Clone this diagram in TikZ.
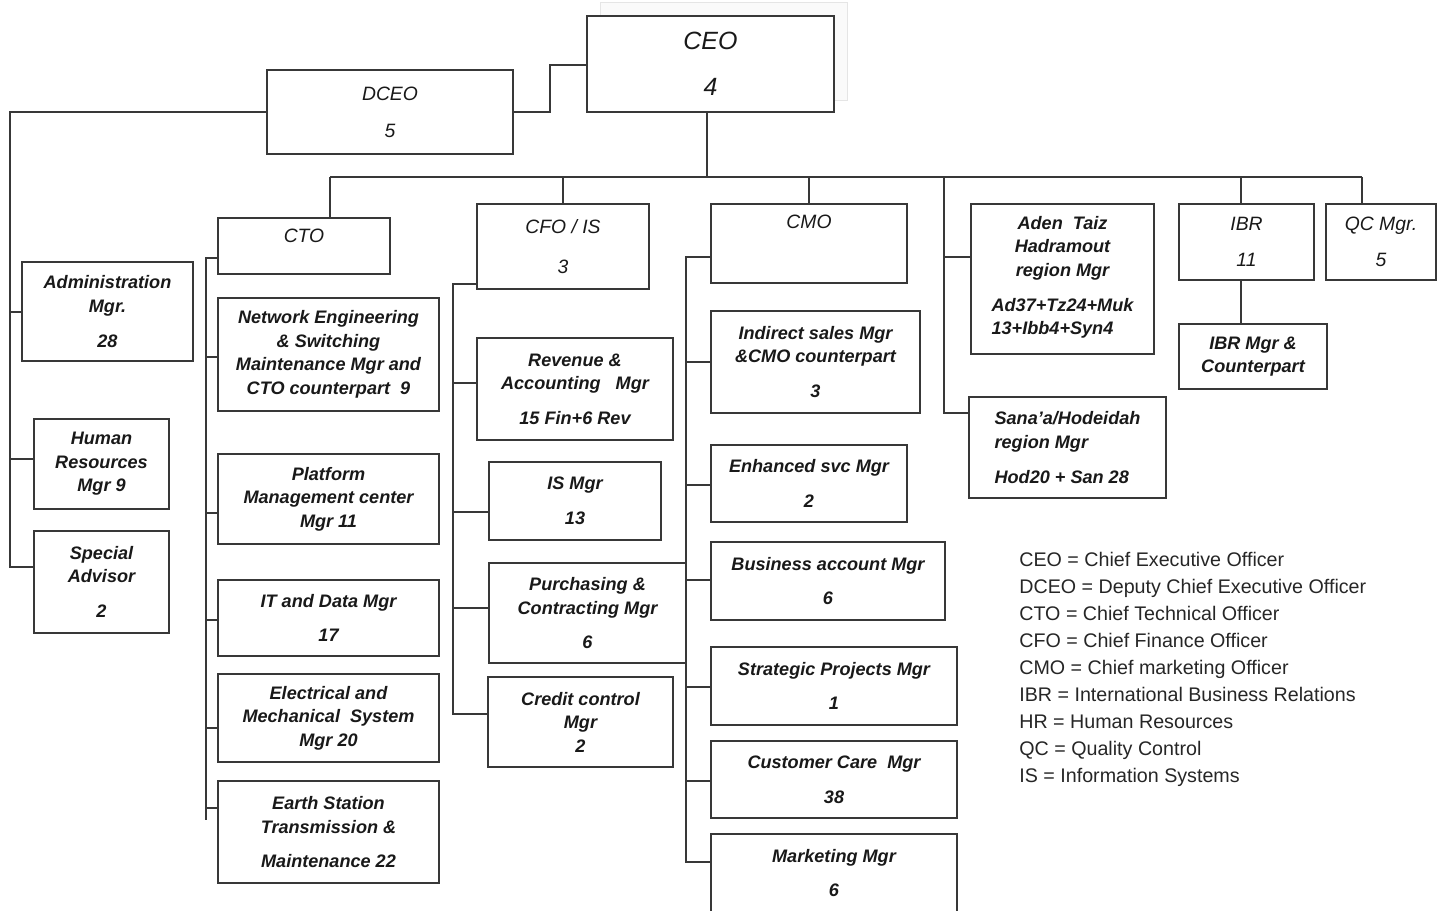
\documentclass[tikz,border=0pt]{standalone}
\usepackage{fontspec}
\setmainfont{Liberation Sans}
\usepackage{tikz}

\newcommand{\orgfont}{\fontsize{10.3}{13.4}\selectfont\bfseries\itshape}
\newcommand{\headfont}{\fontsize{11}{13.4}\selectfont\itshape}

\begin{document}
\begin{tikzpicture}[x=0.02cm, y=-0.02cm,
		box/.style={draw=black!78, line width=1pt, fill=white, inner sep=0pt, align=center, font=\orgfont, text=black!90},
		head/.style={box, font=\headfont},
		boxsize/.style 2 args={minimum width=#1*0.02cm, minimum height=#2*0.02cm},
		link/.style={draw=black!78, line width=1pt}]
		\useasboundingbox (0,0) rectangle (1443,911);
		\draw[black!10, fill=black!2] (600,2) rectangle (847,100);
		\node[head, boxsize={247}{96}, font=\fontsize{14.2}{17}\selectfont\itshape] (ceo) at (710.5,64) {CEO\\[9pt]4};
		\node[head, boxsize={246}{84}] (dceo) at (390,112) {DCEO\\[7.6pt]5};
		\node[head, boxsize={172}{56}] (cto) at (304,246) {CTO\\[-2pt]\mbox{}};
		\node[head, boxsize={172}{85}] (cfo) at (563,246.5) {CFO / IS\\[9.3pt]3};
		\node[head, boxsize={196}{79}] (cmo) at (809,243.5) {CMO\\[11pt]\mbox{}};
		\node[box, boxsize={183}{150}] (aden) at (1062.5,279) {Aden\ \ Taiz\\Hadramout\\region Mgr\\[6.4pt]\begin{tabular}[t]{@{}l@{}}Ad37+Tz24+Muk\\13+Ibb4+Syn4\end{tabular}};
		\node[box, boxsize={197}{101}, align=left] (sanaa) at (1067.5,447.5) {Sana'a/Hodeidah\\region Mgr\\[6.4pt]Hod20 + San 28};
		\node[head, boxsize={135}{76}] (ibr) at (1246.5,242) {IBR\\[7pt]11};
		\node[box, boxsize={148}{65}] (ibrmgr) at (1253,356.5) {IBR Mgr \&\\Counterpart};
		\node[head, boxsize={110}{76}] (qc) at (1381,242) {QC Mgr.\\[7pt]5};
		\node[box, boxsize={171}{99}] (admin) at (107.5,311.5) {Administration\\Mgr.\\[6.4pt]28};
		\node[box, boxsize={135}{90}] (hr) at (101.5,464) {Human\\Resources\\Mgr 9};
		\node[box, boxsize={135}{102}] (special) at (101.5,582) {Special\\Advisor\\[6.4pt]2};
		\node[box, boxsize={221}{113}] (network) at (328.5,354.5) {Network Engineering\\\& Switching\\Maintenance Mgr and\\CTO counterpart\ \ 9};
		\node[box, boxsize={221}{90}] (platform) at (328.5,499) {Platform\\Management center\\Mgr 11};
		\node[box, boxsize={221}{76}] (itdata) at (328.5,618) {IT and Data Mgr\\[6.4pt]17};
		\node[box, boxsize={221}{88}] (elec) at (328.5,718) {Electrical and\\Mechanical\ \ System\\Mgr 20};
		\node[box, boxsize={221}{102}] (earth) at (328.5,832) {Earth Station\\Transmission \&\\[6pt]Maintenance 22};
		\node[box, boxsize={196}{102}] (revenue) at (575,389) {Revenue \&\\Accounting\ \ \ Mgr\\[6.4pt]15 Fin+6 Rev};
		\node[box, boxsize={172}{78}] (ismgr) at (575,501) {IS Mgr\\[6.4pt]13};
		\node[box, boxsize={197}{100}] (purch) at (587.5,613) {Purchasing \&\\Contracting Mgr\\[6pt]6};
		\node[box, boxsize={185}{90}] (credit) at (580.5,722) {Credit control\\Mgr\\2};
		\node[box, boxsize={209}{102}] (indirect) at (815.5,362) {Indirect sales Mgr\\\&CMO counterpart\\[6.4pt]3};
		\node[box, boxsize={196}{77}] (enhanced) at (809,483.5) {Enhanced svc Mgr\\[6.4pt]2};
		\node[box, boxsize={234}{78}] (business) at (828,581) {Business account Mgr\\[6.4pt]6};
		\node[box, boxsize={246}{78}] (strategic) at (834,686) {Strategic Projects Mgr\\[6.4pt]1};
		\node[box, boxsize={246}{77}] (customer) at (834,779.5) {Customer Care\ \ Mgr\\[6.4pt]38};
		\node[box, boxsize={246}{78}] (marketing) at (834,873) {Marketing Mgr\\[6.4pt]6};
		\node[anchor=west, align=left, inner sep=0pt, font=\fontsize{11.2}{15.4}\selectfont, text=black!85] (legend) at (1019,669.5) {CEO = Chief Executive Officer\\DCEO = Deputy Chief Executive Officer\\CTO = Chief Technical Officer\\CFO = Chief Finance Officer\\CMO = Chief marketing Officer\\IBR = International Business Relations\\HR = Human Resources\\QC = Quality Control\\IS = Information Systems};
		\draw[link] (dceo.east) -- (550,112) |- (ceo.west |- 0,65);
		\draw[link] (dceo.west) -| (10,567) -- (special.west |- 0,567);
		\draw[link] (10,312) -- (admin.west |- 0,312);
		\draw[link] (10,459) -- (hr.west |- 0,459);
		\draw[link] (ceo.south -| 707,0) -- (707,177);
		\draw[link] (330,177) -- (1362,177);
		\draw[link] (330,177) -- (cto.north -| 330,0);
		\draw[link] (563,177) -- (cfo.north -| 563,0);
		\draw[link] (809,177) -- (cmo.north);
		\draw[link] (944,177) |- (sanaa.west |- 0,413);
		\draw[link] (944,257) -- (aden.west |- 0,257);
		\draw[link] (1241,177) -- (ibr.north -| 1241,0);
		\draw[link] (ibr.south -| 1241,0) -- (ibrmgr.north -| 1241,0);
		\draw[link] (1362,177) -- (qc.north -| 1362,0);
		\draw[link] (cto.west |- 0,258) -| (206,820);
		\draw[link] (206,357) -- (network.west |- 0,357);
		\draw[link] (206,513) -- (platform.west |- 0,513);
		\draw[link] (206,620) -- (itdata.west |- 0,620);
		\draw[link] (206,728) -- (elec.west |- 0,728);
		\draw[link] (206,808) -- (earth.west |- 0,808);
		\draw[link] (cfo.west |- 0,284) -| (453,714) -- (credit.west |- 0,714);
		\draw[link] (453,383) -- (revenue.west |- 0,383);
		\draw[link] (453,512) -- (ismgr.west |- 0,512);
		\draw[link] (453,608) -- (purch.west |- 0,608);
		\draw[link] (cmo.west |- 0,257) -| (686,862) -- (marketing.west |- 0,862);
		\draw[link] (686,362) -- (indirect.west |- 0,362);
		\draw[link] (686,485) -- (enhanced.west |- 0,485);
		\draw[link] (686,580) -- (business.west |- 0,580);
		\draw[link] (686,687) -- (strategic.west |- 0,687);
		\draw[link] (686,781) -- (customer.west |- 0,781);
	\end{tikzpicture}
\end{document}
